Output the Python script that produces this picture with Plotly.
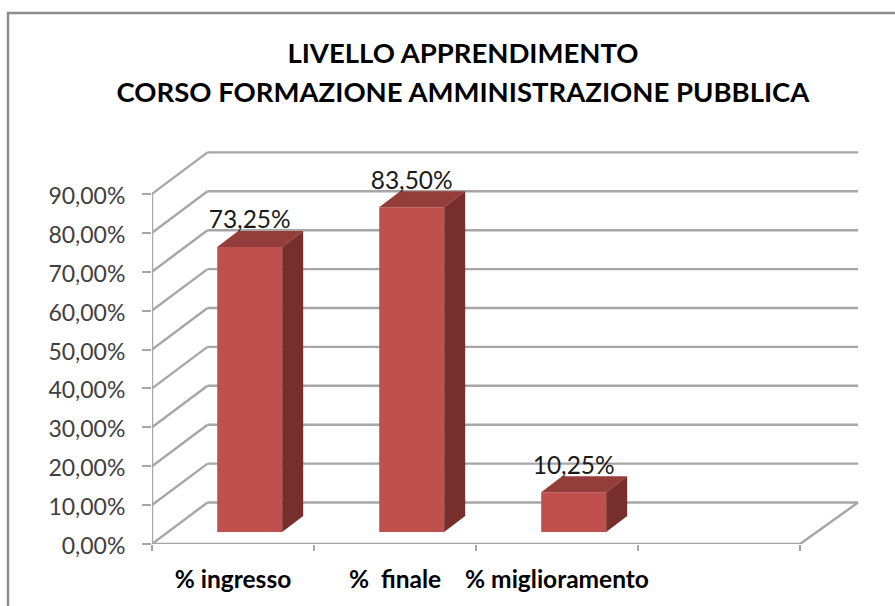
import plotly.graph_objects as go

categories = ["% ingresso", "%\u00a0\u00a0finale", "% miglioramento"]
values = [73.25, 83.50, 10.25]
value_labels = ["73,25%", "83,50%", "10,25%"]
y_ticks = [0, 10, 20, 30, 40, 50, 60, 70, 80, 90]
y_tick_labels = ["0,00%", "10,00%", "20,00%", "30,00%", "40,00%", "50,00%", "60,00%", "70,00%", "80,00%", "90,00%"]

# pseudo-3D geometry, in axis units
W, H = 895, 606
PX_X, PX_Y = 162.0, 3.89         # pixels per x unit / per percent
L, R, T, B = 152, 870, 130, 62   # plot area margins in pixels
DX, DY = 55.5 / PX_X, 41.5 / PX_Y  # wall depth
DX_RIGHT = 58 / PX_X               # wall depth at the right end
BDX, BDY = 21 / PX_X, 16 / PX_Y    # bar depth
OFFX, OFFY = 16.7 / PX_X, 12 / PX_Y  # gap of bar front from the front plane
LABEL_DROP = 3.5 / PX_Y
BAR_W = 65 / PX_X
N_SLOTS = 4

GRID = "#a6a6a6"
FRONT, TOP, SIDE = "#c0504d", "#943d3a", "#772f2c"

x_range = [0, (W - L - (W - R)) / PX_X]
y_range = [0, (H - T - B) / PX_Y]

shapes = []


def seg(x0, y0, x1, y1):
    shapes.append(dict(type="line", xref="x", yref="y", x0=x0, y0=y0, x1=x1, y1=y1,
                       layer="below", line=dict(color=GRID, width=2.4)))


for t in y_ticks:
    seg(0, t, DX, t + DY)
    seg(DX, t + DY, N_SLOTS + DX_RIGHT, t + DY)
seg(0, 0, 0, y_ticks[-1])
seg(0, 0, N_SLOTS, 0)
seg(N_SLOTS, 0, N_SLOTS + DX_RIGHT, DY)

# chart frame
shapes.append(dict(type="path", xref="paper", yref="paper", layer="below",
                   path="M %f,-1 L %f,%f L 1.06,%f" % (
                       (8 - L) / (R - L), (8 - L) / (R - L),
                       (H - B - 13) / (H - T - B), (H - B - 13) / (H - T - B)),
                   line=dict(color="#8c8c8c", width=2.4)))

centers = [i + 0.5 + OFFX for i in range(len(values))]
fig = go.Figure()
fig.add_trace(go.Bar(x=centers, y=values, base=[OFFY] * len(values), width=BAR_W,
                     marker=dict(color=FRONT, line=dict(width=0)), showlegend=False,
                     hoverinfo="skip"))

for c, v in zip(centers, values):
    x0, x1 = c - BAR_W / 2, c + BAR_W / 2
    y0, y1 = OFFY, OFFY + v
    fig.add_trace(go.Scatter(x=[x0, x1, x1 + BDX, x0 + BDX, x0],
                             y=[y1, y1, y1 + BDY, y1 + BDY, y1],
                             mode="lines", fill="toself", fillcolor=TOP,
                             line=dict(width=0, color=TOP), showlegend=False, hoverinfo="skip"))
    fig.add_trace(go.Scatter(x=[x1, x1 + BDX, x1 + BDX, x1, x1],
                             y=[y0, y0 + BDY, y1 + BDY, y1, y0],
                             mode="lines", fill="toself", fillcolor=SIDE,
                             line=dict(width=0, color=SIDE), showlegend=False, hoverinfo="skip"))

fig.add_trace(go.Scatter(x=centers, y=[OFFY + v + BDY - LABEL_DROP for v in values],
                         mode="text", text=value_labels, textposition="top center",
                         textfont=dict(family="Lato", size=24.5, color="#1a1a1a"),
                         showlegend=False, hoverinfo="skip"))

title_html = ('<span style="font-size:27.5px">LIVELLO APPRENDIMENTO</span><br>'
              '<span style="font-size:27.5px">CORSO FORMAZIONE AMMINISTRAZIONE PUBBLICA</span>')

fig.update_layout(
    width=W, height=H, autosize=False,
    margin=dict(l=L, r=W - R, t=T, b=B, pad=0),
    paper_bgcolor="white", plot_bgcolor="rgba(0,0,0,0)",
    shapes=shapes,
    title=dict(text=title_html, x=463 / W, xanchor="center", xref="container",
               y=1 - 63 / H, yanchor="top", yref="container",
               font=dict(family="Lato", size=30, color="black", weight="bold")),
    xaxis=dict(range=x_range, showgrid=False, zeroline=False, showline=False,
               tickmode="array", tickvals=[i + 0.5 for i in range(len(categories))],
               ticktext=categories, ticks="", ticklabelstandoff=18,
               tickfont=dict(family="Lato", size=24.5, color="black", weight="bold"),
               minor=dict(tickmode="array", tickvals=list(range(N_SLOTS + 1)), ticks="outside",
                          ticklen=6, tickwidth=2, tickcolor=GRID, showgrid=False)),
    yaxis=dict(range=y_range, showgrid=False, zeroline=False, showline=False,
               tickmode="array", tickvals=y_ticks, ticktext=y_tick_labels,
               ticks="outside", ticklen=9, tickwidth=2,
               tickcolor=GRID, ticklabelstandoff=12, ticklabelshift=2,
               tickfont=dict(family="Lato", size=23, color="#404040")),
)

fig.write_html("out.html", config={"displayModeBar": False},
               post_script="document.body.style.margin='0';")
